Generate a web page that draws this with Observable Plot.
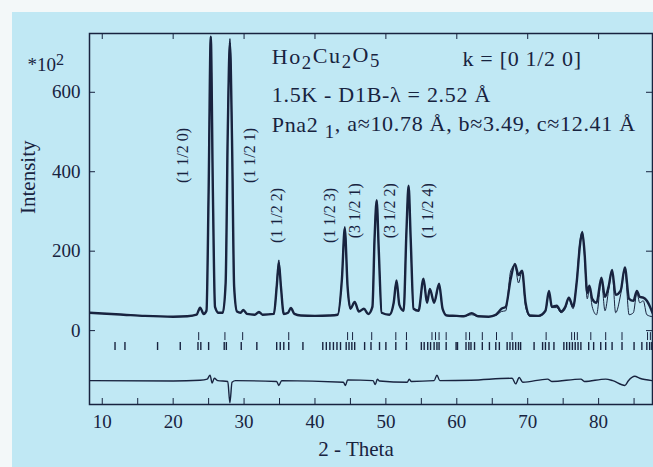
<!DOCTYPE html>
<html><head><meta charset="utf-8">
<script src="https://cdn.jsdelivr.net/npm/d3@7"></script>
<script src="https://cdn.jsdelivr.net/npm/@observablehq/plot@0.6"></script>
<style>
html,body{margin:0;padding:0;background:#f3f8f9;}
#wrap{position:relative;width:653px;height:467px;overflow:hidden;}
#bg{position:absolute;left:12px;top:12px;right:0;bottom:0;background:#c0e8f4;}
#chart{position:absolute;left:0;top:0;}
</style></head><body><div id="wrap"><div id="bg"></div><div id="chart"></div></div>
<script>
// ---- data ----
const twoTheta   = [8.2,10,13,16,20,22,23.3,23.8,24.3,24.7,25.0,25.3,25.6,25.9,26.4,27.0,27.4,27.7,28.0,28.3,28.6,29.0,29.5,29.9,30.4,31.5,32.1,32.6,34.2,34.6,34.9,35.2,35.6,36.2,36.6,37.1,38,40,42,43.2,43.8,44.2,44.6,45.0,45.6,46.2,46.9,47.5,48.1,48.4,48.7,49.0,49.4,50.5,51.1,51.5,51.9,52.5,52.9,53.2,53.5,53.9,54.6,55.3,55.8,56.2,56.8,57.5,58.0,58.6,60,61,62.1,63,64.5,65.5,66.3,66.9,67.6,68.2,68.7,69.2,69.7,70.3,71.5,72.5,73.0,73.4,74.1,74.7,75.3,75.8,76.4,76.9,77.4,77.7,78.0,78.4,78.7,79.1,79.7,80.4,80.9,81.4,81.9,82.4,83.1,83.7,84.3,84.9,85.4,85.8,86.3,86.8,87.6];
const observed   = [45,43,40,37,35,36,40,58,42,50,350,740,350,60,45,45,120,500,725,480,110,48,45,52,42,40,47,40,42,110,171,110,42,45,57,42,38,37,38,40,130,257,110,55,72,48,55,42,60,230,327,200,45,40,70,126,65,50,250,365,230,55,50,131,70,105,70,118,55,38,37,36,44,36,35,40,55,60,130,168,140,151,70,38,37,50,100,60,63,48,60,83,60,120,220,247,200,95,113,80,70,133,85,110,153,90,100,159,80,75,100,85,83,75,45];
const calculated = [45,43,40,37,35,36,40,55,42,52,360,740,345,62,45,45,125,520,735,490,110,48,45,50,42,40,45,40,42,118,178,112,42,45,55,42,38,37,38,40,135,262,108,55,70,48,55,42,62,238,330,198,45,40,70,124,65,50,255,362,225,55,50,128,70,105,72,110,55,38,37,36,40,36,35,38,48,50,150,165,120,150,60,36,36,48,95,58,58,45,55,80,55,125,230,250,190,80,105,60,40,125,50,100,150,45,90,155,40,45,95,70,75,40,35];
const diffTheta  = [8.2,20,23.8,24.8,25.2,25.5,25.8,26.3,27.7,28.0,28.3,28.8,34.6,34.9,35.3,44.0,44.3,44.6,48.2,48.5,48.8,49.1,53.0,53.3,53.6,56.8,57.2,57.6,62,67.8,68.3,68.8,69.3,72.8,73.4,77.5,78.0,81.0,82.0,83.7,84.2,85.1,85.8,87.6];
const difference = [-126,-127,-125,-122,-112,-132,-120,-126,-128,-182,-130,-126,-128,-138,-126,-130,-138,-124,-126,-136,-122,-127,-130,-122,-128,-126,-112,-126,-125,-120,-134,-118,-130,-122,-128,-122,-128,-122,-126,-138,-126,-115,-120,-126];
const braggUpper = [23.6,27.3,29.8,36.3,44.6,45.3,48.0,51.4,52.9,56.5,57.0,57.5,58.5,61.3,61.8,63.6,65.6,67.8,72.6,76.2,76.6,77.0,78.9,81.0,83.3,86.9,87.3];
const braggLower = [11.8,13.2,17.8,21.0,23.5,23.9,25.0,27.2,27.5,29.6,31.8,34.6,35.1,35.6,36.3,38.3,41.1,41.6,42.1,42.6,43.1,43.6,44.4,44.8,45.2,45.6,47.0,47.9,49.1,50.0,51.4,52.9,55.0,55.4,55.9,56.3,56.8,57.2,57.5,58.5,59.9,60.1,61.3,61.7,62.0,62.5,63.6,64.6,65.5,66.0,67.1,67.5,67.9,68.3,68.7,69.0,70.9,72.1,72.5,73.0,73.7,75.1,75.5,75.9,76.3,76.7,77.1,77.5,78.6,79.3,80.3,81.0,81.9,83.3,85.0,86.1,86.8,87.2,87.5];
const xTickValues = [10,20,30,40,50,60,70,80];
const xMinorTicks = [10,15,20,25,30,35,40,45,50,55,60,65,70,75,80,85];
const yTickValues = [0,200,400,600];
const peakLabels = ["(1 1/2 0)","(1 1/2 1)","(1 1/2 2)","(1 1/2 3)","(3 1/2 1)","(3 1/2 2)","(1 1/2 4)"];
const peakLabelTheta = [21.4,30.8,34.6,42.1,45.6,50.5,55.9];
const peakLabelIntensity = [441,441,290,290,302,302,302];
const infoText = ["Ho_{2}Cu_{2}O_{5}","k = [0 1/2 0]","1.5K - D1B-λ = 2.52 Å","Pna2 _{1}, a≈10.78 Å, b≈3.49, c≈12.41 Å"];
const infoTheta = [33.9,60.8,33.9,33.9];
const infoIntensity = [690,684,594,517];
const xLabel = "2 - Theta";
const yLabel = "Intensity";
const yUnit = "*10^{2}";

// ---- chart ----
const ink = "#18233f";
const W = 653, H = 467, mL = 89, mR = 1, mT = 33, mB = 63;
const innerW = W - mL - mR, innerH = H - mT - mB, tk = 6;
const font = "'Liberation Serif','Times New Roman',serif";

const obsData = twoTheta.map((t,i)=>({t, v: observed[i]}));
const calcData = twoTheta.map((t,i)=>({t, v: calculated[i]}));
const diffData = diffTheta.map((t,i)=>({t, v: difference[i]}));
const peakData = peakLabels.map((s,i)=>({s, t: peakLabelTheta[i], v: peakLabelIntensity[i]}));
const infoData = infoText.map((s,i)=>({s, t: infoTheta[i], v: infoIntensity[i]}));

const chart = Plot.plot({
  width: W, height: H,
  marginLeft: mL, marginRight: mR, marginTop: mT, marginBottom: mB,
  style: {background: "transparent", fontFamily: font, color: ink},
  x: {domain: [8.2, 87.6]},
  y: {domain: [-186, 748]},
  marks: [
    Plot.frame({stroke: ink, strokeWidth: 1.5}),
    Plot.tickX(xMinorTicks, {x: d=>d, stroke: ink, insetTop: innerH - tk}),
    Plot.tickX(xTickValues, {x: d=>d, stroke: ink, insetBottom: innerH - tk}),
    Plot.tickY(yTickValues, {y: d=>d, stroke: ink, insetRight: innerW - tk}),
    Plot.tickY(yTickValues, {y: d=>d, stroke: ink, insetLeft: innerW - tk}),
    Plot.axisX({ticks: xTickValues, tickSize: 0, tickPadding: 10, fontSize: 19, label: null, fill: ink}),
    Plot.axisY({ticks: yTickValues, tickSize: 0, tickPadding: 9, fontSize: 19, label: null, fill: ink}),
    Plot.ruleX(braggLower, {x: d=>d, y1: -30, y2: -50, stroke: ink, strokeWidth: 1.4}),
    Plot.ruleX(braggUpper, {x: d=>d, y1: -5, y2: -25, stroke: ink, strokeWidth: 1}),
    Plot.line(diffData, {x: "t", y: "v", stroke: ink, strokeWidth: 1.4, curve: "monotone-x", clip: true}),
    Plot.line(calcData, {x: "t", y: "v", stroke: ink, strokeWidth: 1, curve: "monotone-x", clip: true}),
    Plot.line(obsData, {x: "t", y: "v", stroke: ink, strokeWidth: 2.4, curve: "monotone-x", clip: true}),
    Plot.text(peakData, {x: "t", y: "v", text: "s", rotate: -90, fontSize: 16, fill: ink}),
    Plot.text(infoData, {x: "t", y: "v", text: "s", textAnchor: "start", fontSize: 22, fill: ink}),
    Plot.text([xLabel], {frameAnchor: "bottom", dx: -15, dy: 51, fontSize: 21, fill: ink}),
    Plot.text([yLabel], {frameAnchor: "left", dx: -61, dy: -5, rotate: -90, fontSize: 21, fill: ink}),
    Plot.text([yUnit], {frameAnchor: "top-left", textAnchor: "start", dx: -62, dy: 24, fontSize: 19, fill: ink})
  ]
});

// turn _{..} and ^{..} markup into real sub/superscript tspans
d3.select(chart).selectAll("text").each(function(){
  const s = this.textContent;
  const el = d3.select(this);
  if (infoText.includes(s)) el.attr("letter-spacing", s.startsWith("Ho") ? "1.6px" : "0.7px");
  if (!/[_^]\{/.test(s)) return;
  el.text(null);
  const re = /([_^])\{([^}]*)\}/g;
  let last = 0, m, shift = 0;
  const add = (txt, dy) => { const ts = el.append("tspan").text(txt); if (dy) ts.attr("dy", dy + "em"); };
  while ((m = re.exec(s))) {
    if (m.index > last) { add(s.slice(last, m.index), shift ? -shift : 0); shift = 0; }
    const d = m[1] === "_" ? 0.3 : -0.4;
    el.append("tspan").text(m[2]).attr("dy", (d - shift) + "em").attr("font-size", "0.85em");
    shift = d;
    last = re.lastIndex;
  }
  if (last < s.length) add(s.slice(last), shift ? -shift : 0);
});
document.getElementById("chart").appendChild(chart);
</script>
</body></html>
